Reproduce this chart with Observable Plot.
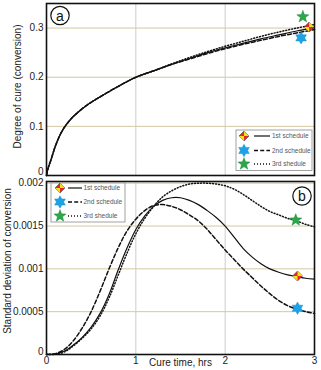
<!DOCTYPE html>
<html><head><meta charset="utf-8">
<script src="https://cdn.jsdelivr.net/npm/d3@7"></script>
<script src="https://cdn.jsdelivr.net/npm/@observablehq/plot@0.6"></script>
<style>
body{margin:0;background:#fff;}
#chart svg{display:block;}
</style></head><body><div id="chart"></div>
<script>
// ---------- data ----------
const series = ["1st schedule", "2nd schedule", "3rd shedule"];
const timeA = [0, 0.02, 0.05, 0.1, 0.15, 0.2, 0.25, 0.3, 0.4, 0.5, 0.6, 0.8, 1.0, 1.2, 1.4, 1.6, 1.8, 2.0, 2.2, 2.4, 2.6, 2.8, 3.0];
const cure1 = [0, 0.016, 0.032, 0.06, 0.082, 0.098, 0.11, 0.12, 0.136, 0.149, 0.16, 0.181, 0.2, 0.213, 0.226, 0.238, 0.25, 0.26, 0.269, 0.278, 0.286, 0.294, 0.301];
const cure2 = [0, 0.016, 0.032, 0.06, 0.082, 0.098, 0.11, 0.12, 0.136, 0.149, 0.16, 0.181, 0.2, 0.213, 0.226, 0.237, 0.248, 0.258, 0.267, 0.275, 0.283, 0.290, 0.297];
const cure3 = [0, 0.016, 0.032, 0.06, 0.082, 0.098, 0.11, 0.12, 0.136, 0.149, 0.16, 0.181, 0.2, 0.213, 0.227, 0.240, 0.252, 0.263, 0.273, 0.283, 0.292, 0.300, 0.307];
const cureMarkX = [2.94, 2.85, 2.87];
const cureMarkY = [0.302, 0.28, 0.323];

const timeB = [0, 0.1, 0.2, 0.3, 0.4, 0.5, 0.6, 0.7, 0.8, 0.9, 1.0, 1.1, 1.2, 1.3, 1.4, 1.5, 1.6, 1.7, 1.8, 1.9, 2.0, 2.1, 2.2, 2.3, 2.4, 2.5, 2.6, 2.7, 2.8, 2.9, 3.0];
const sd1 = [0, 0.000005, 0.00004, 0.00011, 0.0002, 0.00032, 0.00048, 0.0007, 0.00098, 0.00124, 0.00146, 0.00162, 0.00173, 0.0018, 0.00183, 0.00183, 0.0018, 0.00175, 0.00168, 0.0016, 0.0015, 0.00137, 0.00124, 0.00114, 0.00106, 0.001, 0.00096, 0.00093, 0.00091, 0.00089, 0.00088];
const sd2 = [0, 0.00001, 0.00006, 0.00016, 0.00031, 0.0005, 0.00074, 0.001, 0.00124, 0.00144, 0.00158, 0.00168, 0.00174, 0.00175, 0.00173, 0.00169, 0.00163, 0.00156, 0.00146, 0.00134, 0.00122, 0.00111, 0.001, 0.0009, 0.0008, 0.00071, 0.00063, 0.00057, 0.00053, 0.0005, 0.00048];
const sd3 = [0, 0.000003, 0.00003, 0.0001, 0.00019, 0.0003, 0.00045, 0.00066, 0.00092, 0.00118, 0.00141, 0.00159, 0.00173, 0.00184, 0.00191, 0.00196, 0.00199, 0.002, 0.002, 0.00199, 0.00197, 0.00193, 0.00187, 0.0018, 0.00173, 0.00167, 0.00163, 0.00159, 0.00156, 0.00152, 0.00149];
const sdMarkX = [2.81, 2.81, 2.79];
const sdMarkY = [0.000916, 0.00054, 0.00157];

const cureTicks = [0, 0.1, 0.2, 0.3];
const sdTicks = [0, 0.0005, 0.001, 0.0015, 0.002];
const timeTicks = [0, 1, 2, 3];

// ---------- styles ----------
const FONT = "'Liberation Sans', Arial, sans-serif";
const lineStyles = [
  {stroke: "#111", strokeWidth: 1.2},
  {stroke: "#111", strokeWidth: 1.5, strokeDasharray: "4,2.2"},
  {stroke: "#111", strokeWidth: 1.5, strokeDasharray: "1,2"}
];
const RED = "#e8262a", YEL = "#f5e11c", BLUE = "#1ba3e6", GREEN = "#2aa84a";

const rOf = s => Math.sqrt(s / Math.PI);
const diamondFull = {draw(c, s) {const R = rOf(s); c.moveTo(0, -R); c.lineTo(R, 0); c.lineTo(0, R); c.lineTo(-R, 0); c.closePath();}};
const diamondQuads = {draw(c, s) {const R = rOf(s);
  c.moveTo(0, 0); c.lineTo(0, -R); c.lineTo(R, 0); c.closePath();
  c.moveTo(0, 0); c.lineTo(0, R); c.lineTo(-R, 0); c.closePath();}};
const hexagram = {draw(c, s) {const R = rOf(s), r = R / Math.sqrt(3);
  for (let i = 0; i < 12; i++) {const a = Math.PI / 6 * i - Math.PI / 2, q = i % 2 ? r : R;
    const x = q * Math.cos(a), y = q * Math.sin(a); i ? c.lineTo(x, y) : c.moveTo(x, y);}
  c.closePath();}};
const star5 = {draw(c, s) {const R = rOf(s), r = R * 0.42;
  for (let i = 0; i < 10; i++) {const a = Math.PI / 5 * i - Math.PI / 2, q = i % 2 ? r : R;
    const x = q * Math.cos(a), y = q * Math.sin(a); i ? c.lineTo(x, y) : c.moveTo(x, y);}
  c.closePath();}};

const markerDefs = [
  [{symbol: diamondFull, r: 5, fill: RED, stroke: "#444", strokeWidth: 0.6}, {symbol: diamondQuads, r: 5, fill: YEL, stroke: "none"}],
  [{symbol: hexagram, r: 6.2, fill: BLUE, stroke: "#1580c0", strokeWidth: 0.4}],
  [{symbol: star5, r: 6.4, fill: GREEN, stroke: "#1d7a33", strokeWidth: 0.4}]
];

function markerMarks(xs, ys) {
  const out = [];
  markerDefs.forEach((defs, i) => defs.forEach(d => out.push(Plot.dot([i], {x: [xs[i]], y: [ys[i]], ...d}))));
  return out;
}
function lineMarks(xs, ys) {
  return ys.map((arr, i) => Plot.line(arr, {x: xs, y: arr, curve: "catmull-rom", ...lineStyles[i]}));
}
function symPath(sym, r) {const p = d3.path(); sym.draw(p, r * r * Math.PI); return p.toString();}

function addLegend(svg, x, y, w, h, rows, mx, lx0, lx1, tx) {
  const g = d3.select(svg).append("g").attr("font-family", FONT).attr("font-size", 6.5).attr("text-anchor", "start");
  g.append("rect").attr("x", x).attr("y", y).attr("width", w).attr("height", h)
    .attr("fill", "#fff").attr("stroke", "#8a8a8a").attr("stroke-width", 0.8);
  series.forEach((name, i) => {
    const yy = y + rows[i];
    g.append("line").attr("x1", x + lx0).attr("x2", x + lx1).attr("y1", yy).attr("y2", yy)
      .attr("stroke", lineStyles[i].stroke).attr("stroke-width", lineStyles[i].strokeWidth)
      .attr("stroke-dasharray", lineStyles[i].strokeDasharray || null);
    markerDefs[i].forEach(d => g.append("path").attr("transform", `translate(${x + mx},${yy})`)
      .attr("d", symPath(d.symbol, d.r)).attr("fill", d.fill).attr("stroke", d.stroke)
      .attr("stroke-width", d.strokeWidth || 0));
    g.append("text").attr("x", x + tx).attr("y", yy).attr("dy", "0.35em").attr("text-anchor", "start")
      .attr("fill", "#555").text(name);
  });
}
function addBadge(svg, cx, cy, letter) {
  const g = d3.select(svg).append("g");
  g.append("circle").attr("cx", cx).attr("cy", cy).attr("r", 9.2).attr("fill", "#fff").attr("stroke", "#111").attr("stroke-width", 1.2);
  g.append("text").attr("x", cx).attr("y", cy).attr("dy", "0.36em").attr("text-anchor", "middle")
    .attr("font-family", FONT).attr("font-size", 14).attr("fill", "#111").text(letter);
}

const common = {
  width: 321, marginLeft: 46, marginRight: 7,
  style: {fontFamily: FONT, fontSize: "10px", color: "#222", background: "#fff", overflow: "visible"}
};

// ---------- panel a ----------
const plotA = Plot.plot({
  ...common, height: 178, marginTop: 3, marginBottom: 3,
  x: {domain: [0, 3], axis: null},
  y: {domain: [0, 0.35]},
  marks: [
    Plot.gridY(cureTicks.slice(1), {stroke: "#d2c9a0", strokeOpacity: 1}),
    Plot.gridX([1, 2], {stroke: "#cccccc", strokeOpacity: 1}),
    Plot.axisY(cureTicks.slice(1), {tickSize: 0, tickPadding: 3, tickFormat: d => String(d), fill: "#222"}),
    Plot.axisY([0], {tickSize: 0, tickPadding: 3, dy: -4, tickFormat: d => String(d), fill: "#222"}),
    Plot.text(["Degree of cure (conversion)"], {frameAnchor: "left", textAnchor: "middle", dx: -29, dy: -3, rotate: -90, text: d => d, fontSize: 10, fill: "#222"}),
    ...lineMarks(timeA, [cure1, cure2, cure3]),
    Plot.frame({stroke: "#111", strokeWidth: 1.6}),
    ...markerMarks(cureMarkX, cureMarkY)
  ]
});
addLegend(plotA, 236, 130, 76, 40.5, [6, 20.5, 34], 8, 18, 34, 36);
addBadge(plotA, 60, 15.5, "a");

// ---------- panel b ----------
const plotB = Plot.plot({
  ...common, height: 192, marginTop: 3, marginBottom: 16,
  x: {domain: [0, 3]},
  y: {domain: [0, 0.00202]},
  marks: [
    Plot.gridY(sdTicks.slice(1), {stroke: "#d2c9a0", strokeOpacity: 1}),
    Plot.gridX([1, 2], {stroke: "#cccccc", strokeOpacity: 1}),
    Plot.axisY(sdTicks.slice(1), {tickSize: 0, tickPadding: 3, tickFormat: d => String(d), fill: "#222"}),
    Plot.axisY([0], {tickSize: 0, tickPadding: 3, dy: -3, tickFormat: d => String(d), fill: "#222"}),
    Plot.axisX(timeTicks, {tickSize: 0, tickPadding: 2, label: null, tickFormat: d => String(d), fill: "#222"}),
    Plot.text(["Cure time, hrs"], {x: [1.5], frameAnchor: "bottom", lineAnchor: "top", dy: 4, text: d => d, fontSize: 10, fill: "#222"}),
    Plot.text(["Standard deviation of conversion"], {frameAnchor: "left", textAnchor: "middle", dx: -39, dy: -7, rotate: -90, text: d => d, fontSize: 10, fill: "#222"}),
    ...lineMarks(timeB, [sd1, sd2, sd3]),
    Plot.frame({stroke: "#111", strokeWidth: 1.6}),
    ...markerMarks(sdMarkX, sdMarkY)
  ]
});
addLegend(plotB, 51, 5, 74, 39, [5, 19, 33], 9, 17, 31, 32.5);
addBadge(plotB, 302, 18, "b");

document.getElementById("chart").append(plotA, plotB);
</script>
</body></html>
